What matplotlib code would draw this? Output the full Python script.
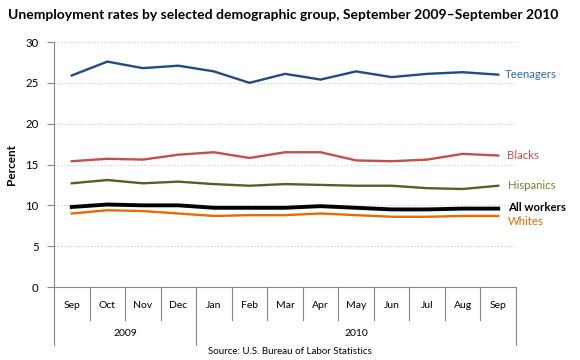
import matplotlib
matplotlib.use("Agg")
from matplotlib import pyplot as plt
from matplotlib.transforms import blended_transform_factory

months = ["Sep", "Oct", "Nov", "Dec", "Jan", "Feb", "Mar", "Apr", "May", "Jun", "Jul", "Aug", "Sep"]
years = ["2009", "2010"]
year_spans = [(0, 3), (4, 12)]

teenagers = [25.9, 27.6, 26.8, 27.1, 26.4, 25.0, 26.1, 25.4, 26.4, 25.7, 26.1, 26.3, 26.0]
blacks = [15.4, 15.7, 15.6, 16.2, 16.5, 15.8, 16.5, 16.5, 15.5, 15.4, 15.6, 16.3, 16.1]
hispanics = [12.7, 13.1, 12.7, 12.9, 12.6, 12.4, 12.6, 12.5, 12.4, 12.4, 12.1, 12.0, 12.4]
all_workers = [9.8, 10.1, 10.0, 10.0, 9.7, 9.7, 9.7, 9.9, 9.7, 9.5, 9.5, 9.6, 9.6]
whites = [9.0, 9.4, 9.3, 9.0, 8.7, 8.8, 8.8, 9.0, 8.8, 8.6, 8.6, 8.7, 8.7]

plt.rcParams["font.family"] = ["Lato", "DejaVu Sans"]

fig = plt.figure(figsize=(5.8, 3.6), dpi=100)
ax = fig.add_axes([54 / 580, 1 - 287 / 360, 462 / 580, 245 / 360])

x = list(range(len(months)))
series = [
    ("Teenagers", teenagers, "#254a80", "#2c6aa8", 1.7, "normal", 5, 0),
    ("Blacks", blacks, "#c0504d", "#c0504d", 1.7, "normal", 6.5, 0),
    ("Hispanics", hispanics, "#4f6228", "#6b8a32", 1.7, "normal", 7, 0),
    ("Whites", whites, "#e36c09", "#e36c09", 1.7, "normal", 7, -4),
    ("All workers", all_workers, "#000000", "#000000", 2.8, "bold", 7, 1),
]
for name, vals, col, tcol, lw, weight, dx, dy in series:
    ax.plot(x, vals, color=col, lw=lw, solid_joinstyle="round", zorder=3)
    ax.annotate(name, (x[-1], vals[-1]), xytext=(dx, dy), textcoords="offset points",
                color=tcol, fontsize=8.2, fontweight=weight, va="center", ha="left",
                annotation_clip=False)

ax.set_xlim(-0.5, len(months) - 0.5)
ax.set_ylim(0, 30)
ax.set_yticks(range(0, 31, 5))
ax.tick_params(axis="y", labelsize=8.2, length=5, color="#868686", pad=6)
ax.set_xticks([])
for y in range(5, 31, 5):
    ax.axhline(y, color="#c8c8c8", lw=0.8, ls=(0, (1, 2)), zorder=1)
for s in ["top", "right"]:
    ax.spines[s].set_visible(False)
ax.spines["left"].set_color("#868686")
ax.spines["bottom"].set_color("#868686")
ax.set_ylabel("Percent", fontsize=8.5, fontweight="bold", labelpad=6)

# two-level category axis
tr = blended_transform_factory(ax.transData, ax.transAxes)
short = -33 / 245
long_ = -58 / 245
outer = [-0.5, 3.5, len(months) - 0.5]
for b in range(len(months) + 1):
    xb = b - 0.5
    ax.plot([xb, xb], [0, long_ if xb in outer else short], color="#868686", lw=0.8,
            transform=tr, clip_on=False)
for i, m in enumerate(months):
    ax.text(i, -18 / 245, m, transform=tr, ha="center", va="center", fontsize=7.5)
for yr, (a, b) in zip(years, year_spans):
    ax.text((a + b) / 2, -46 / 245, yr, transform=tr, ha="center", va="center", fontsize=7.5)

fig.text(8 / 580, 1 - 15 / 360, "Unemployment rates by selected demographic group, September 2009\u2013September 2010",
         fontsize=10, fontweight="bold", ha="left", va="center")
fig.text(290 / 580, 1 - 352 / 360, "Source: U.S. Bureau of Labor Statistics",
         fontsize=7, ha="center", va="center")

fig.savefig("out.png", dpi=100)
